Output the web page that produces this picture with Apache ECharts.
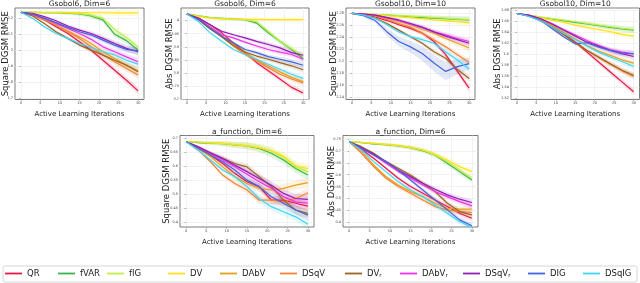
<!DOCTYPE html>
<html><head><meta charset="utf-8">
<script src="https://cdn.jsdelivr.net/npm/echarts@6/dist/echarts.min.js"></script>
<style>html,body{margin:0;padding:0;background:#fff}#c{width:640px;height:283px}</style>
</head><body><div id="c"></div>
<script>
// ---- data (series order = SERIES_NAMES) ----
const SERIES_NAMES = ['QR','fVAR','fIG','DV','DAbV','DSqV','DV_r','DAbV_r','DSqV_r','DIG','DSqIG'];
const SERIES_COLORS = ['#e6194b','#3cb44b','#bfef45','#ffe119','#e6a01e','#f58231','#9a6324','#f032e6','#911eb4','#4363d8','#42d4f4'];
const ITERATIONS = [0,3,6,9,12,15,18,21,24,27,30];
const X_TICKS = [0,5,10,15,20,25,30];

const gsobol6Square = [
  [2.238,2.22,2.19,2.147,2.105,2.053,2.0,1.937,1.874,1.811,1.744],
  [2.238,2.237,2.236,2.235,2.233,2.228,2.215,2.19,2.10,2.06,2.0],
  [2.238,2.237,2.236,2.235,2.234,2.23,2.22,2.2,2.13,2.08,2.02],
  [2.238,2.238,2.237,2.237,2.236,2.236,2.235,2.235,2.234,2.234,2.234],
  [2.238,2.225,2.194,2.158,2.122,2.084,2.042,1.99,1.948,1.906,1.87],
  [2.238,2.22,2.19,2.158,2.116,2.074,2.021,1.969,1.927,1.885,1.843],
  [2.238,2.215,2.168,2.116,2.074,2.032,2.0,1.969,1.937,1.906,1.864],
  [2.238,2.225,2.2,2.168,2.137,2.105,2.068,2.021,1.99,1.958,1.927],
  [2.238,2.232,2.211,2.185,2.152,2.126,2.105,2.074,2.042,2.011,1.99],
  [2.238,2.227,2.2,2.173,2.143,2.116,2.095,2.063,2.032,2.005,1.996],
  [2.238,2.20,2.147,2.105,2.074,2.042,2.017,1.99,1.97,1.937,1.912]
];
const gsobol6SquareSpread = [0,0.004,0.006,0.008,0.01,0.012,0.014,0.016,0.018,0.02,0.022];
const gsobol6SquareTicks = [1.7,1.8,1.9,2.0,2.1,2.2];

const gsobol6Abs = [
  [4.025,4.009,3.984,3.953,3.915,3.878,3.84,3.809,3.778,3.746,3.725],
  [4.025,4.018,4.011,4.008,4.005,4.003,3.99,3.953,3.921,3.89,3.855],
  [4.025,4.018,4.011,4.008,4.005,4.003,3.996,3.959,3.921,3.893,3.865],
  [4.025,4.015,4.009,4.005,4.004,4.004,4.004,4.003,4.003,4.003,4.003],
  [4.025,4.005,3.975,3.943,3.909,3.878,3.85,3.828,3.805,3.784,3.768],
  [4.025,4.003,3.971,3.938,3.903,3.871,3.846,3.821,3.796,3.778,3.763],
  [4.025,4.003,3.968,3.938,3.905,3.88,3.865,3.853,3.84,3.828,3.813],
  [4.025,4.005,3.975,3.946,3.934,3.918,3.903,3.89,3.88,3.871,3.853],
  [4.025,4.009,3.984,3.959,3.946,3.934,3.921,3.909,3.896,3.878,3.868],
  [4.025,4.005,3.971,3.94,3.915,3.89,3.878,3.863,3.853,3.843,3.83],
  [4.025,3.996,3.953,3.921,3.89,3.871,3.853,3.834,3.815,3.796,3.78]
];
const gsobol6AbsSpread = [0,0.002,0.003,0.004,0.005,0.006,0.007,0.008,0.009,0.01,0.011];
const gsobol6AbsTicks = [3.70,3.75,3.80,3.85,3.90,3.95,4.00];

const gsobol10Square = [
  [2.28,2.278,2.274,2.268,2.261,2.255,2.247,2.233,2.211,2.183,2.155],
  [2.28,2.279,2.278,2.277,2.276,2.274,2.273,2.272,2.271,2.27,2.269],
  [2.28,2.2795,2.2785,2.2775,2.2765,2.2755,2.2745,2.273,2.272,2.2705,2.27],
  [2.28,2.279,2.278,2.276,2.274,2.273,2.271,2.269,2.268,2.266,2.264],
  [2.28,2.279,2.276,2.272,2.266,2.261,2.253,2.247,2.238,2.23,2.222],
  [2.28,2.278,2.276,2.27,2.263,2.257,2.247,2.236,2.224,2.211,2.198],
  [2.28,2.277,2.272,2.263,2.252,2.241,2.23,2.216,2.205,2.186,2.171],
  [2.28,2.279,2.277,2.273,2.268,2.262,2.256,2.249,2.244,2.238,2.233],
  [2.28,2.279,2.277,2.273,2.269,2.263,2.257,2.249,2.242,2.236,2.23],
  [2.28,2.276,2.268,2.249,2.233,2.224,2.213,2.197,2.183,2.191,2.196],
  [2.28,2.277,2.272,2.261,2.249,2.241,2.236,2.23,2.216,2.202,2.187]
];
const gsobol10SquareSpread = [0,0.001,0.0015,0.002,0.0025,0.003,0.0035,0.004,0.0045,0.005,0.0055];
const gsobol10SquareDIGSpread = [0,0.002,0.004,0.006,0.008,0.01,0.012,0.014,0.015,0.013,0.01];
const gsobol10SquareTicks = [2.14,2.16,2.18,2.20,2.22,2.24,2.26,2.28];

const gsobol10Abs = [
  [1.674,1.67,1.662,1.651,1.638,1.622,1.604,1.586,1.568,1.55,1.532],
  [1.674,1.671,1.667,1.664,1.661,1.658,1.655,1.652,1.649,1.646,1.644],
  [1.674,1.671,1.668,1.665,1.662,1.659,1.656,1.653,1.65,1.647,1.645],
  [1.674,1.670,1.666,1.662,1.658,1.653,1.649,1.645,1.641,1.636,1.633],
  [1.674,1.671,1.663,1.653,1.641,1.628,1.616,1.606,1.598,1.59,1.584],
  [1.674,1.67,1.662,1.65,1.636,1.621,1.607,1.594,1.582,1.57,1.56],
  [1.674,1.67,1.661,1.65,1.636,1.622,1.607,1.595,1.583,1.571,1.562],
  [1.674,1.671,1.665,1.656,1.645,1.635,1.625,1.616,1.608,1.604,1.601],
  [1.674,1.671,1.665,1.655,1.644,1.633,1.622,1.615,1.607,1.601,1.596],
  [1.674,1.669,1.662,1.647,1.632,1.619,1.621,1.613,1.607,1.602,1.601],
  [1.674,1.669,1.661,1.65,1.638,1.627,1.615,1.604,1.595,1.587,1.578]
];
const gsobol10AbsSpread = [0,0.001,0.0015,0.002,0.0025,0.003,0.0035,0.004,0.0045,0.005,0.0055];
const gsobol10AbsTicks = [1.52,1.54,1.56,1.58,1.60,1.62,1.64,1.66,1.68];

const aFunctionSquare = [
  [0.686,0.666,0.639,0.609,0.574,0.544,0.527,0.479,0.479,0.468,0.458],
  [0.686,0.683,0.681,0.679,0.675,0.671,0.662,0.645,0.621,0.591,0.568],
  [0.686,0.685,0.682,0.68,0.676,0.672,0.665,0.653,0.63,0.597,0.58],
  [0.686,0.685,0.682,0.68,0.676,0.672,0.665,0.654,0.635,0.6,0.591],
  [0.686,0.662,0.633,0.597,0.562,0.538,0.521,0.515,0.521,0.532,0.541],
  [0.686,0.656,0.615,0.568,0.538,0.515,0.479,0.479,0.473,0.485,0.505],
  [0.686,0.668,0.645,0.627,0.609,0.597,0.562,0.527,0.479,0.444,0.432],
  [0.686,0.666,0.645,0.621,0.597,0.571,0.544,0.521,0.491,0.473,0.468],
  [0.686,0.668,0.647,0.627,0.603,0.58,0.556,0.532,0.503,0.485,0.482],
  [0.686,0.662,0.639,0.615,0.586,0.55,0.527,0.491,0.468,0.444,0.426],
  [0.686,0.656,0.621,0.586,0.562,0.527,0.485,0.456,0.438,0.42,0.394]
];
const aFunctionSquareSpread = [0,0.004,0.006,0.008,0.01,0.012,0.013,0.014,0.015,0.016,0.017];
const aFunctionSquareTicks = [0.40,0.45,0.50,0.55,0.60,0.65,0.70];

const aFunctionAbs = [
  [0.739,0.707,0.669,0.627,0.585,0.55,0.522,0.494,0.466,0.438,0.417],
  [0.739,0.735,0.73,0.726,0.721,0.714,0.701,0.683,0.648,0.613,0.578],
  [0.739,0.736,0.732,0.728,0.722,0.715,0.704,0.683,0.655,0.62,0.585],
  [0.739,0.736,0.732,0.728,0.722,0.715,0.704,0.686,0.662,0.634,0.613],
  [0.739,0.697,0.641,0.592,0.557,0.529,0.508,0.48,0.459,0.455,0.455],
  [0.739,0.69,0.634,0.585,0.55,0.522,0.494,0.466,0.452,0.445,0.441],
  [0.739,0.718,0.69,0.655,0.627,0.599,0.564,0.529,0.48,0.445,0.431],
  [0.739,0.711,0.683,0.648,0.613,0.585,0.557,0.529,0.508,0.487,0.469],
  [0.739,0.714,0.687,0.655,0.62,0.592,0.564,0.539,0.515,0.497,0.483],
  [0.739,0.711,0.683,0.655,0.62,0.578,0.536,0.494,0.452,0.41,0.385],
  [0.739,0.704,0.655,0.613,0.571,0.536,0.508,0.473,0.438,0.403,0.379]
];
const aFunctionAbsSpread = [0,0.003,0.005,0.006,0.007,0.008,0.009,0.01,0.011,0.012,0.013];
const aFunctionAbsTicks = [0.40,0.45,0.50,0.55,0.60,0.65,0.70,0.75];

// ---- layout ----
const PLOTS = [
  {title:'Gsobol6, Dim=6', yName:'Square DGSM RMSE', nameGap:4.5, rows:gsobol6Square, spread:gsobol6SquareSpread, ticks:gsobol6SquareTicks, ymin:1.69, ymax:2.265, grid:{left:15,top:8,width:129,height:91.5}},
  {title:'Gsobol6, Dim=6', yName:'Abs DGSM RMSE', nameGap:7, rows:gsobol6Abs, spread:gsobol6AbsSpread, ticks:gsobol6AbsTicks, ymin:3.70, ymax:4.0475, grid:{left:181,top:8,width:128,height:91.5}},
  {title:'Gsobol10, Dim=10', yName:'Square DGSM RMSE', nameGap:7.5, rows:gsobol10Square, spread:gsobol10SquareSpread, special:{9:gsobol10SquareDIGSpread}, ticks:gsobol10SquareTicks, ymin:2.136, ymax:2.289, grid:{left:346,top:8,width:129,height:91.5}},
  {title:'Gsobol10, Dim=10', yName:'Abs DGSM RMSE', nameGap:8.5, rows:gsobol10Abs, spread:gsobol10AbsSpread, ticks:gsobol10AbsTicks, ymin:1.518, ymax:1.684, grid:{left:511,top:8,width:128.5,height:91.5}},
  {title:'a_function, Dim=6', yName:'Square DGSM RMSE', nameGap:9, rows:aFunctionSquare, spread:aFunctionSquareSpread, ticks:aFunctionSquareTicks, ymin:0.384, ymax:0.708, grid:{left:180,top:135.5,width:134,height:91.5}},
  {title:'a_function, Dim=6', yName:'Abs DGSM RMSE', nameGap:6.5, rows:aFunctionAbs, spread:aFunctionAbsSpread, ticks:aFunctionAbsTicks, ymin:0.38, ymax:0.765, grid:{left:343,top:135.5,width:135,height:91.5}}
];
const LEGEND_LEFT = [5,58,107,168,220,280,345,400,463,528,583];

const FONT = 'DejaVu Sans';
const grids=[], xAxes=[], yAxes=[], titles=[], series=[];

function bandSeries(pi, lo, hi, col) {
  return {type:'custom', xAxisIndex:pi, yAxisIndex:pi, silent:true, z:1, clip:true,
    encode:{x:0, y:[1,2]},
    data:ITERATIONS.map((x,k)=>[x, lo[k], hi[k]]),
    renderItem:(params, api) => {
      if (params.dataIndex !== 0) return null;
      const pts = [];
      for (let k = 0; k < ITERATIONS.length; k++) pts.push(api.coord([ITERATIONS[k], hi[k]]));
      for (let k = ITERATIONS.length - 1; k >= 0; k--) pts.push(api.coord([ITERATIONS[k], lo[k]]));
      return {type:'polygon', shape:{points:pts}, style:{fill:col, opacity:0.15}};
    }};
}

PLOTS.forEach((p, pi) => {
  grids.push(Object.assign({show:true, borderColor:'#444', borderWidth:0.7, containLabel:false}, p.grid));
  titles.push({text:p.title, left:p.grid.left + p.grid.width/2, top:p.grid.top - (pi<4?8:7), textAlign:'center', padding:0,
    textStyle:{fontFamily:FONT, fontSize:7.5, fontWeight:'normal', color:'#222'}});
  xAxes.push({type:'value', gridIndex:pi, min:-1.5, max:31.5,
    name:'Active Learning Iterations', nameLocation:'middle', nameGap:11.5, nameMoveOverlap:false,
    nameTextStyle:{fontFamily:FONT, fontSize:7, color:'#222'},
    axisLine:{show:false}, axisTick:{show:true, length:1.5, customValues:X_TICKS, lineStyle:{color:'#666', width:0.5}},
    axisLabel:{customValues:X_TICKS, fontSize:3.5, margin:2, color:'#444', fontFamily:FONT},
    splitLine:{show:true, lineStyle:{color:'#e9e9e9', width:0.6}}});
  yAxes.push({type:'value', gridIndex:pi, min:p.ymin, max:p.ymax,
    name:p.yName, nameLocation:'middle', nameGap:p.nameGap, nameMoveOverlap:false,
    nameTextStyle:{fontFamily:FONT, fontSize:8.5, color:'#222'},
    axisLine:{show:false}, axisTick:{show:true, length:1.5, customValues:p.ticks, lineStyle:{color:'#666', width:0.5}},
    axisLabel:{customValues:p.ticks, fontSize:3.5, margin:2, color:'#444', fontFamily:FONT, formatter:v=>String(+v.toFixed(2))},
    splitLine:{show:true, lineStyle:{color:'#e9e9e9', width:0.6}}});
  p.rows.forEach((vals, i) => {
    const col = SERIES_COLORS[i];
    const sp = (p.special && p.special[i]) || p.spread;
    series.push(bandSeries(pi, vals.map((v,k)=>v-sp[k]), vals.map((v,k)=>v+sp[k]), col));
  });
  p.rows.forEach((vals, i) => {
    const col = SERIES_COLORS[i];
    series.push({type:'line', name:SERIES_NAMES[i], xAxisIndex:pi, yAxisIndex:pi, symbol:'none', z:3,
      lineStyle:{color:col, width:1.2}, itemStyle:{color:col}, data:ITERATIONS.map((x,k)=>[x, vals[k]])});
  });
});

const legends = SERIES_NAMES.map((n, i) => ({
  data:[n], left:LEGEND_LEFT[i], top:269, icon:'rect', itemWidth:17, itemHeight:1.8, itemGap:0, padding:0, selectedMode:false,
  formatter: name => name.endsWith('_r') ? '{a|' + name.slice(0,-2) + '}{s|r}' : '{a|' + name + '}',
  textStyle:{fontFamily:FONT, fontSize:8.5, color:'#222', rich:{a:{fontFamily:FONT, fontSize:8.5, color:'#222'}, s:{fontFamily:FONT, fontSize:5.5, color:'#222', verticalAlign:'bottom', padding:[4,0,0,0]}}}
}));

const chart = echarts.init(document.getElementById('c'), null, {renderer:'canvas'});
chart.setOption({
  animation:false, backgroundColor:'#fff',
  title:titles, grid:grids, xAxis:xAxes, yAxis:yAxes, series:series, legend:legends,
  graphic:[{type:'rect', shape:{x:3, y:266, width:634, height:16, r:2}, style:{fill:'#fff', stroke:'#cccccc', lineWidth:0.8}, z:-1}]
});
</script></body></html>
